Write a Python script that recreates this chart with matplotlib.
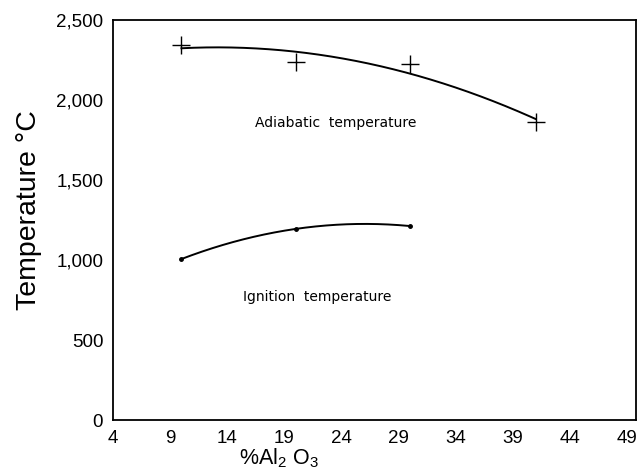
import numpy as np
import matplotlib.pyplot as plt

plt.rcParams['font.family'] = 'Liberation Sans'
plt.rcParams['mathtext.fontset'] = 'custom'
plt.rcParams['mathtext.rm'] = 'Liberation Sans'

# datos
al2o3_adiab = [10, 20, 30, 41]
temp_adiab = [2344, 2237, 2225, 1862]
al2o3_ign = [10, 20, 30]
temp_ign = [1006, 1194, 1212]

xticks = [4, 9, 14, 19, 24, 29, 34, 39, 44, 49]
yticks = [0, 500, 1000, 1500, 2000, 2500]

fig = plt.figure(figsize=(6.38, 4.72), dpi=100)
ax = fig.add_axes([0.177, 0.110, 0.820, 0.848])

# curvas ajustadas (polinomio de 2o grado)
c1 = np.polyfit(al2o3_adiab, temp_adiab, 2)
xs1 = np.linspace(min(al2o3_adiab), max(al2o3_adiab), 200)
ax.plot(xs1, np.polyval(c1, xs1), color='black', lw=1.4)
ax.plot(al2o3_adiab, temp_adiab, '+', color='black', ms=13, mew=1.0)

c2 = np.polyfit(al2o3_ign, temp_ign, 2)
xs2 = np.linspace(min(al2o3_ign), max(al2o3_ign), 200)
ax.plot(xs2, np.polyval(c2, xs2), color='black', lw=1.4)
ax.plot(al2o3_ign, temp_ign, '.', color='black', ms=5)

ax.text(16.4, 1856, 'Adiabatic  temperature', fontsize=10, family='DejaVu Sans',
        va='center', ha='left')
ax.text(15.4, 769, 'Ignition  temperature', fontsize=10, family='DejaVu Sans',
        va='center', ha='left')

ax.set_xlim(4, 49.8)
ax.set_ylim(0, 2500)
ax.set_xticks(xticks)
ax.set_yticks(yticks)
ax.set_yticklabels([f'{v:,}' for v in yticks])
ax.tick_params(length=0, labelsize=13.5, pad=7)
for s in ax.spines.values():
    s.set_linewidth(1.3)

ax.set_ylabel('Temperature °C', fontsize=20.5)
ax.yaxis.set_label_coords(-0.136, 0.525)
ax.set_xlabel(r'%Al$_2$ O$_3$', fontsize=15.5)
ax.xaxis.set_label_coords(0.317, -0.065)

plt.savefig('out.png')
